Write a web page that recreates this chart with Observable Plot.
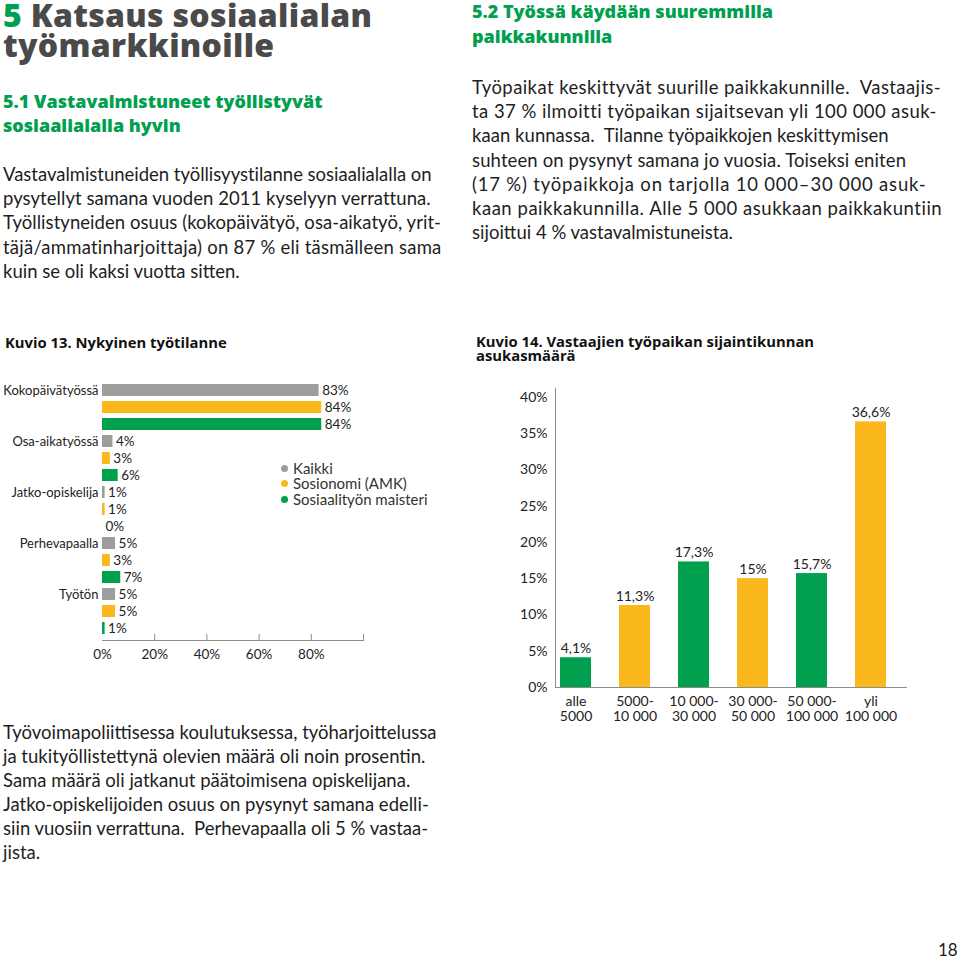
<!DOCTYPE html>
<html><head><meta charset="utf-8">
<script src="https://cdn.jsdelivr.net/npm/d3@7"></script>
<script src="https://cdn.jsdelivr.net/npm/@observablehq/plot@0.6"></script>
<style>
html,body{margin:0;padding:0;background:#fff;}
#page{position:relative;width:960px;height:960px;overflow:hidden;font-family:Lato,"Open Sans",sans-serif;color:#1e1e1e;}
.ln{position:absolute;white-space:pre;line-height:1;}
.chart{position:absolute;}
.leg{position:absolute;font:15px Lato,sans-serif;color:#333;white-space:pre;line-height:1;}
.leg i{position:absolute;left:-12px;top:4px;width:7px;height:7px;border-radius:50%;}
</style></head><body><div id="page"></div>
<script>
// ---------- data ----------
const statusCategories = ["Kokopäivätyössä", "Osa-aikatyössä", "Jatko-opiskelija", "Perhevapaalla", "Työtön"];
const statusSeries = ["Kaikki", "Sosionomi (AMK)", "Sosiaalityön maisteri"];
const statusKaikki = [83, 4, 1, 5, 5];
const statusSosionomi = [84, 3, 1, 3, 5];
const statusMaisteri = [84, 6, 0, 7, 1];
const statusTicks = [0, 20, 40, 60, 80];
const statusTickMarks = [20, 40, 60, 80, 100];

const sizeCategories = ["alle\n5000", "5000-\n10 000", "10 000-\n30 000", "30 000-\n50 000", "50 000-\n100 000", "yli\n100 000"];
const sizeValues = [4.1, 11.3, 17.3, 15, 15.7, 36.6];
const sizeTicks = [0, 5, 10, 15, 20, 25, 30, 35, 40];

// ---------- colours ----------
const GREEN = "#00a04f", YELLOW = "#fbb81c", GRAY = "#9d9d9d";
const page = document.getElementById("page");

// ---------- text helper (positions lines by baseline, optional right edge) ----------
function line(segs, x, baseline, style, right) {
  const d = document.createElement("div");
  d.className = "ln";
  Object.assign(d.style, style);
  d.style.left = x + "px";
  if (typeof segs === "string") segs = [[segs]];
  for (const [t, c] of segs) {
    const s = document.createElement("span");
    s.textContent = t;
    if (c) s.style.color = c;
    d.appendChild(s);
  }
  const m = document.createElement("span");
  m.style.cssText = "display:inline-block;width:0;height:0;vertical-align:baseline";
  d.appendChild(m);
  page.appendChild(d);
  d.style.top = (baseline - m.offsetTop) + "px";
  if (right) {
    const txt = segs.map(s => s[0]).join("");
    const w = d.getBoundingClientRect().width;
    const ls = (right - x - w) / Math.max(1, txt.length - 1);
    d.style.letterSpacing = Math.max(-0.4, Math.min(0.8, ls)) + "px";
  }
  return d;
}
const H1 = {fontSize: "32px", fontWeight: "800", fontFamily: "'Open Sans',Lato,sans-serif", color: "#4a4a4a", letterSpacing: "0.3px", lineHeight: "0.8"};
const H2 = {fontSize: "18px", fontWeight: "800", fontFamily: "'Open Sans',Lato,sans-serif", color: GREEN, lineHeight: "0.9"};
const BODY = {fontSize: "18.5px"};
const CAP = {fontSize: "14.8px", fontWeight: "bold", fontFamily: "'Open Sans',Lato,sans-serif", color: "#111", lineHeight: "0.9"};

line([["5 ", GREEN], ["Katsaus sosiaalialan"]], 3, 27, H1);
line("työmarkkinoille", 3, 57, H1);
line("5.1 Vastavalmistuneet työllistyvät", 3, 108, H2);
line("sosiaalialalla hyvin", 3, 132, H2);
const leftBody = [
  "Vastavalmistuneiden työllisyystilanne sosiaalialalla on",
  "pysytellyt samana vuoden 2011 kyselyyn verrattuna.",
  "Työllistyneiden osuus (kokopäivätyö, osa-aikatyö, yrit-",
  "täjä/ammatinharjoittaja) on 87 % eli täsmälleen sama",
  "kuin se oli kaksi vuotta sitten."
];
const leftRight = [432, 430, 441, 441, null];
leftBody.forEach((t, i) => line(t, 3, 181 + i * 24.2, BODY, leftRight[i]));

line("5.2 Työssä käydään suuremmilla", 472, 18, H2);
line("paikkakunnilla", 472, 43, H2);
const rightBody = [
  "Työpaikat keskittyvät suurille paikkakunnille.  Vastaajis-",
  "ta 37 % ilmoitti työpaikan sijaitsevan yli 100 000 asuk-",
  "kaan kunnassa.  Tilanne työpaikkojen keskittymisen",
  "suhteen on pysynyt samana jo vuosia. Toiseksi eniten",
  "(17 %) työpaikkoja on tarjolla 10 000–30 000 asuk-",
  "kaan paikkakunnilla. Alle 5 000 asukkaan paikkakuntiin",
  "sijoittui 4 % vastavalmistuneista."
];
const rightRight = [940, 936, 888, 906, 933, 942, null];
rightBody.forEach((t, i) => line(t, 472, 94 + i * 24.2, BODY, rightRight[i]));

line("Kuvio 13. Nykyinen työtilanne", 5, 348, CAP);
line("Kuvio 14. Vastaajien työpaikan sijaintikunnan", 476, 347, CAP);
line("asukasmäärä", 476, 361, CAP);

const bottomBody = [
  "Työvoimapoliittisessa koulutuksessa, työharjoittelussa",
  "ja tukityöllistettynä olevien määrä oli noin prosentin.",
  "Sama määrä oli jatkanut päätoimisena opiskelijana.",
  "Jatko-opiskelijoiden osuus on pysynyt samana edelli-",
  "siin vuosiin verrattuna.  Perhevapaalla oli 5 % vastaa-",
  "jista."
];
bottomBody.forEach((t, i) => line(t, 3, 739 + i * 24, BODY));

line("18", 938, 956, {fontSize: "17px"});

// ---------- Chart 1: Kuvio 13 ----------
const seriesValues = [statusKaikki, statusSosionomi, statusMaisteri];
const statusRows = statusCategories.flatMap((c, ci) =>
  statusSeries.map((s, si) => ({cat: c, series: s, key: c + "|" + s, value: seriesValues[si][ci]})));

const chart1 = Plot.plot({
  width: 440, height: 300,
  marginTop: 8, marginBottom: 30, marginLeft: 102, marginRight: 77,
  style: {fontFamily: "Lato, sans-serif", fontSize: "13px", color: "#222", background: "transparent"},
  x: {domain: [0, 100], label: null},
  y: {type: "band", domain: statusRows.map(d => d.key), paddingInner: 0.32, paddingOuter: 0.1, axis: null, label: null},
  color: {domain: statusSeries, range: [GRAY, YELLOW, GREEN]},
  marks: [
    Plot.barX(statusRows, {x: "value", y: "key", fill: "series"}),
    Plot.text(statusRows, {x: "value", y: "key", text: d => d.value + "%", textAnchor: "start", dx: 3, fontSize: 13.5, fill: "#222"}),
    Plot.text(statusCategories, {x: () => 0, y: d => d + "|" + statusSeries[0], text: d => d, textAnchor: "end", dx: -4, fontSize: 13, fill: "#222"}),
    Plot.frame({anchor: "bottom", stroke: "#8c8c8c"}),
    Plot.tickX(statusTickMarks, {x: d => d, stroke: "#8c8c8c", insetTop: 256}),
    Plot.axisX({ticks: statusTicks, tickSize: 0, tickPadding: 9, tickFormat: d => d + "%", fontSize: 13.5, fill: "#222", label: null})
  ]
});
chart1.classList.add("chart");
Object.assign(chart1.style, {left: "0px", top: "370px"});
page.appendChild(chart1);

// legend
statusSeries.forEach((s, i) => {
  const d = document.createElement("div");
  d.className = "leg";
  d.style.left = "293px";
  d.style.top = (461 + i * 15.3) + "px";
  const dot = document.createElement("i");
  dot.style.background = [GRAY, YELLOW, GREEN][i];
  d.appendChild(dot);
  d.appendChild(document.createTextNode(s));
  page.appendChild(d);
});

// ---------- Chart 2: Kuvio 14 ----------
const sizeRows = sizeCategories.map((c, i) => ({cat: c, value: sizeValues[i], i}));
const fmt = v => String(v).replace(".", ",") + "%";
const chart2 = Plot.plot({
  width: 480, height: 362,
  marginTop: 18, marginBottom: 45, marginLeft: 75, marginRight: 54,
  style: {fontFamily: "Lato, sans-serif", fontSize: "14px", color: "#222", background: "transparent"},
  x: {type: "band", domain: sizeCategories, paddingInner: 0.48, paddingOuter: 0.17, align: 0.18, label: null},
  y: {domain: [0, 41.2], label: null},
  marks: [
    Plot.barY(sizeRows, {x: "cat", y: "value", fill: d => d.i % 2 ? YELLOW : GREEN}),
    Plot.text(sizeRows, {x: "cat", y: "value", text: d => fmt(d.value), dy: -9, fontSize: 14, fill: "#222"}),
    Plot.frame({anchor: "left", stroke: "#8c8c8c"}),
    Plot.frame({anchor: "bottom", stroke: "#8c8c8c"}),
    Plot.axisY({ticks: sizeTicks, tickSize: 0, tickPadding: 8, tickFormat: d => d + "%", fontSize: 14, fill: "#222", label: null}),
    Plot.axisX({tickSize: 0, tickPadding: 8, lineHeight: 1.05, fontSize: 14, fill: "#222", label: null})
  ]
});
chart2.classList.add("chart");
Object.assign(chart2.style, {left: "480px", top: "370px"});
page.appendChild(chart2);
</script>
</body></html>
